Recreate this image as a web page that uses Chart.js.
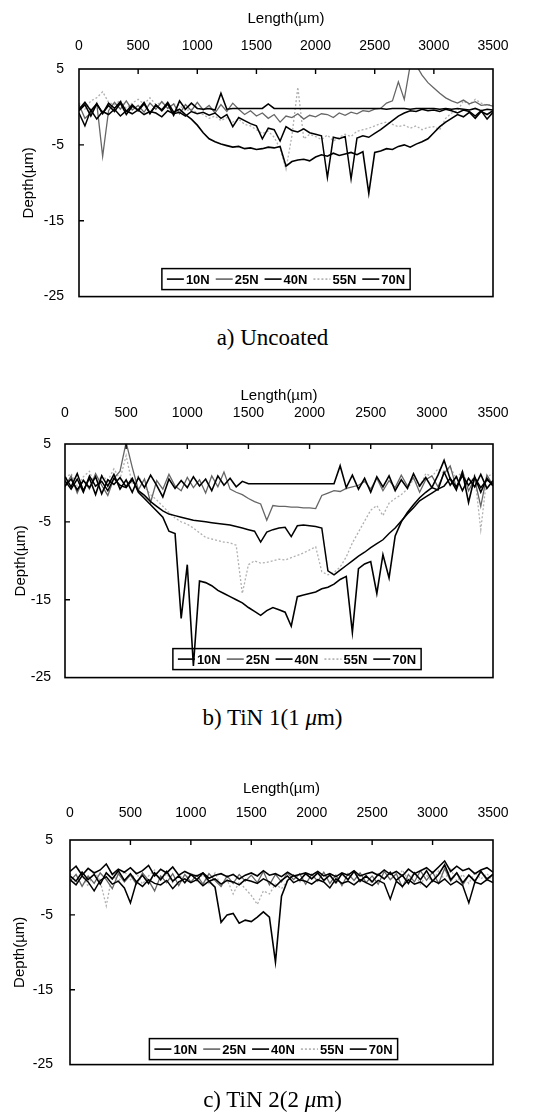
<!DOCTYPE html>
<html>
<head>
<meta charset="utf-8">
<script src="https://cdn.jsdelivr.net/npm/chart.js@4.4.0/dist/chart.umd.min.js"></script>
<style>
  html, body { margin: 0; padding: 0; background: #fff; }
  #page { position: relative; width: 551px; height: 1120px; overflow: hidden; }
  .panel { position: absolute; left: 0; width: 551px; height: 320px; }
  .caption { position: absolute; left: 0; width: 545px; text-align: center;
             font-family: "Liberation Serif", "Times New Roman", serif; font-size: 23px;
             line-height: 26px; color: #000; }
</style>
</head>
<body>
<div id="page">
  <div class="panel" style="top:0px"><canvas id="chartA"></canvas></div>
  <div class="caption" style="top:325px">a) Uncoated</div>
  <div class="panel" style="top:380px"><canvas id="chartB"></canvas></div>
  <div class="caption" style="top:705px">b) TiN 1(1 <i>μ</i>m)</div>
  <div class="panel" style="top:770px"><canvas id="chartC"></canvas></div>
  <div class="caption" style="top:1087px">c) TiN 2(2 <i>μ</i>m)</div>
</div>
<script>
// --- Data (length in µm, depth in µm) ---
const lengthUm = [0, 50, 100, 150, 200, 250, 300, 350, 400, 450,
  500, 550, 600, 650, 700, 750, 800, 850, 900, 950,
  1000, 1050, 1100, 1150, 1200, 1250, 1300, 1350, 1400, 1450,
  1500, 1550, 1600, 1650, 1700, 1750, 1800, 1850, 1900, 1950,
  2000, 2050, 2100, 2150, 2200, 2250, 2300, 2350, 2400, 2450,
  2500, 2550, 2600, 2650, 2700, 2750, 2800, 2850, 2900, 2950,
  3000, 3050, 3100, 3150, 3200, 3250, 3300, 3350, 3400, 3450, 3500];
const lengthTicks = [0, 500, 1000, 1500, 2000, 2500, 3000, 3500];
const depthTicks = [5, -5, -15, -25];
const loadLabels = ['10N', '25N', '40N', '55N', '70N'];

// a) Uncoated
const uncoated10N = [-0.5, 0.3, -1.2, 0.4, -0.8, 0.2, -0.6, 0.5, -1.0, 0.1,
  -0.4, 0.6, -0.9, 0.3, -0.5, 0.4, -1.1, 0.8, -0.3, 0.5,
  -0.2, -0.3, -0.2, -0.4, 1.8, -0.3, -0.2, -0.2, -0.2, -0.2,
  -0.2, -0.2, 0.4, -0.2, -0.2, -0.2, -0.2, -0.2, -0.2, -0.2,
  -0.2, -0.2, -0.2, -0.2, -0.2, -0.2, -0.2, -0.2, -0.2, -0.2,
  -0.2, -0.2, -0.3, -0.2, -0.2, -0.2, -0.3, -0.2, -0.2, -0.2,
  -0.2, -0.3, -0.2, -0.3, -0.2, -0.3, -0.4, -0.2, -0.5, -0.3, -0.4];
const uncoated25N = [0.3, -1.5, -0.8, 0.5, -6.5, -0.5, 0.6, -0.3, 0.8, -0.4,
  0.2, -0.7, 0.5, -0.3, 0.7, -0.2, 0.4, -0.9, 0.3, -0.5,
  0.6, -0.4, 0.2, -0.8, 0.3, -0.6, 0.5, -0.3, -1.0, -0.5,
  -1.2, -0.8, -1.5, -1.0, -2.0, -1.2, -1.4, -0.9, -1.6, -1.1,
  -1.3, -0.9, -1.0, -1.4, -0.8, -1.1, -0.7, -0.9, -0.5, -0.6,
  -0.3, -0.2, 0.5, 0.8, 3.3, 1.0, 5.5, 5.5, 4.2, 3.2,
  2.5, 1.8, 1.2, 0.8, 0.5, 0.9, 0.4, 0.7, 0.2, 0.3, 0.1];
const uncoated40N = [-0.8, -2.5, -0.4, -1.6, -0.6, -1.0, -0.3, -1.2, -0.5, -0.9,
  -0.4, -1.0, -0.6, -0.8, -1.3, -0.5, -0.9, -0.7, -1.2, -0.6,
  -0.9, -0.7, -1.1, -0.8, -1.5, -1.0, -2.6, -1.4, -1.8, -2.2,
  -2.5, -4.2, -2.8, -3.0, -4.5, -2.6, -3.1, -3.3, -2.9, -3.4,
  -3.6, -3.8, -9.3, -4.0, -4.2, -3.9, -9.5, -4.1, -3.8, -4.0,
  -3.5, -3.0, -2.4, -1.8, -1.2, -0.8, -0.5, -0.6, -0.3, -0.5,
  -0.4, -0.6, -0.3, -0.5, -0.8, -0.4, -0.6, -1.2, -0.5, -1.6, -0.7];
const uncoated55N = [0.5, -0.3, 0.8, 1.2, 2.0, 0.6, 0.3, 0.9, -0.2, 0.5,
  1.0, 0.4, 1.2, 0.3, 0.6, -0.2, 0.4, 0.2, -0.5, -0.3,
  -0.8, -1.0, -1.5, -1.2, -1.8, -1.4, -2.0, -1.6, -2.3, -2.5,
  -3.0, -3.5, -3.2, -4.0, -5.5, -8.2, -3.8, 2.6, -4.2, -3.6,
  -3.9, -4.3, -3.7, -4.5, -4.0, -3.6, -3.9, -3.2, -3.0, -2.8,
  -2.5, -2.2, -2.0, -2.3, -2.6, -2.4, -2.8, -2.5, -3.0, -2.7,
  -2.6, -3.0, -1.5, -0.8, -0.5, 0.8, 0.3, 1.0, 0.5, 0.2, 0.4];
const uncoated70N = [-0.3, 0.6, -0.5, 0.4, -0.9, 0.5, -0.2, 0.7, -0.6, 0.3,
  -0.5, 0.4, -0.8, 0.2, -0.4, 0.6, -0.7, -0.3, -1.0, -1.6,
  -2.4, -3.4, -4.2, -4.6, -4.9, -5.1, -5.3, -5.2, -5.5, -5.4,
  -5.6, -5.5, -5.3, -5.4, -5.2, -7.8, -7.2, -7.0, -6.9, -7.1,
  -6.6, -6.3, -6.5, -6.1, -6.4, -6.2, -6.0, -6.3, -5.9, -11.4,
  -6.0, -5.8, -5.5, -5.6, -5.2, -5.0, -5.3, -4.9, -4.6, -4.2,
  -3.4, -2.6, -2.0, -1.5, -1.0, -1.3, -0.7, -1.5, -0.6, -1.0, -0.5];

// b) TiN 1 (1 µm)
const tin1_10N = [0.8, -0.5, 1.2, -1.0, 0.6, -1.5, 0.9, -0.4, 1.1, -0.8,
  0.4, -1.2, 0.7, -0.6, 1.0, -0.3, -1.8, 0.5, -0.7, 0.3,
  -0.6, 0.8, -0.4, 0.5, -1.0, 0.9, -0.3, 0.6, -0.5, 0.2,
  -0.1, -0.1, -0.1, -0.1, -0.1, -0.1, -0.1, -0.1, -0.1, -0.1,
  -0.1, -0.1, -0.1, -0.1, -0.1, 2.2, -0.6, 1.0, -0.8, 0.6,
  -1.2, 0.8, -0.5, 0.9, -1.0, 0.4, -0.7, 1.2, -0.4, 0.7,
  -0.6, 1.0, 2.9, 0.5, -0.9, 1.4, -2.5, 0.8, -1.2, 0.6, -0.4];
const tin1_25N = [-0.5, 0.9, -1.3, 0.4, -0.8, 1.2, -0.3, -1.6, 0.6, 1.5,
  5.2, 2.0, -0.9, 0.5, -2.5, 0.3, -0.8, 1.1, -0.4, -1.0,
  0.7, -0.6, 0.4, -1.3, 0.9, -0.5, 1.4, -0.8, -1.2, -1.5,
  -2.0, -2.4, -2.7, -4.8, -2.9, -3.0, -3.0, -3.1, -3.1, -3.2,
  -3.2, -3.3, -1.6, -1.3, -1.0, -1.1, -0.7, -0.5, -0.3, 0.2,
  -0.8, 0.6, -1.0, 0.3, -0.6, 1.0, -0.4, 0.7, -1.2, 0.4,
  0.9, -0.5, 1.2, 2.2, -0.6, 1.5, -1.0, 0.5, -3.0, 1.0, -0.3];
const tin1_40N = [0.3, -0.8, 0.5, -1.2, 0.9, -0.4, 0.2, -1.0, 0.6, -0.3,
  -0.6, 0.4, -1.0, -1.6, -2.4, -3.0, -3.6, -4.0, -4.2, -4.4,
  -4.6, -4.8, -4.9, -5.0, -5.1, -5.2, -5.3, -5.4, -5.6, -5.8,
  -6.0, -6.2, -7.6, -6.3, -6.0, -5.8, -5.7, -6.9, -5.5, -5.4,
  -5.5, -5.6, -5.8, -11.3, -11.8, -11.2, -10.6, -10.0, -9.4, -8.9,
  -8.3, -7.8, -7.3, -6.5, -5.8, -4.9, -4.0, -3.2, -2.3, -1.8,
  -1.3, -0.8, -0.4, 0.6, -0.5, 0.9, -0.3, 0.7, -0.6, 0.4, -0.2];
const tin1_55N = [0.6, 1.2, -0.4, 0.8, 1.5, -0.6, 1.0, 0.3, 1.8, 0.5,
  3.5, -0.2, 0.9, -0.5, -1.5, -2.2, -3.0, -3.8, -4.5, -5.0,
  -5.3, -5.8, -6.4, -7.0, -7.2, -7.4, -7.6, -7.7, -8.0, -14.2,
  -10.5, -10.0, -10.3, -10.2, -10.0, -9.8, -9.9, -9.6, -9.3, -9.0,
  -8.6, -8.2, -11.4, -11.8, -11.5, -10.8, -9.5, -7.7, -6.3, -4.9,
  -3.5, -2.9, -4.2, -2.6, -2.0, -1.5, -0.8, 0.5, -0.6, 1.2,
  0.8, 1.8, 1.2, 2.0, 0.6, 1.5, -0.4, 1.0, -6.0, 0.8, 1.2];
const tin1_70N = [-0.4, 0.5, -0.9, 0.3, -0.6, 0.8, -1.4, 0.4, -0.2, 0.7,
  -0.5, 0.6, -1.2, -2.0, -2.8, -3.6, -4.4, -6.2, -6.5, -17.4,
  -10.5, -23.5, -12.6, -12.8, -13.2, -13.8, -14.2, -14.6, -15.0, -15.4,
  -16.0, -16.5, -17.0, -16.4, -16.0, -16.3, -16.6, -18.4, -14.6, -14.4,
  -14.2, -14.0, -13.6, -13.4, -13.0, -12.4, -12.0, -19.2, -11.0, -10.4,
  -10.1, -14.2, -9.2, -12.2, -6.8, -5.0, -3.8, -2.8, -1.9, -1.2,
  -0.6, -0.9, 1.4, -0.3, 0.8, -1.0, 0.6, -0.5, 1.1, -0.7, 0.3];

// c) TiN 2 (2 µm)
const tin2_10N = [0.8, 1.5, 0.3, 1.2, 0.6, 1.0, 1.8, 0.4, 1.1, 0.7,
  1.3, 0.5, 0.9, 1.6, 0.2, 1.1, 0.6, 1.4, 0.3, 0.8,
  0.4, 0.2, 0.6, -0.1, 0.3, 0.5, 0.1, 0.4, -0.2, 0.3,
  0.6, 0.2, 0.9, 0.3, 0.5, 0.1, 0.7, 0.2, 0.4, 0.6,
  0.3, 0.8, 0.2, 0.5, 0.1, 0.6, 0.3, 0.9, 0.2, 0.5,
  0.7, 0.3, 1.0, 0.4, 0.8, 0.2, 1.1, 0.5, 0.9, 1.3,
  0.6, 1.4, 2.2, 0.8, 1.5, 0.9, 1.2, 0.5, 1.0, 1.3, 0.7];
const tin2_25N = [-0.5, 0.4, -1.2, 0.2, -0.8, 0.6, -0.3, -1.5, 0.5, -0.6,
  0.3, -0.9, 0.6, -0.4, -1.8, 0.2, -0.7, 0.5, -1.1, 0.4,
  -0.6, 0.3, -0.9, 0.5, -0.4, -1.2, 0.2, -0.8, 0.4, -0.5,
  0.3, -0.7, 0.8, -1.0, 0.4, -0.6, 0.6, -0.3, 0.5, -0.9,
  0.4, -0.5, 0.7, -0.8, 0.3, -1.1, 0.5, -0.4, 0.6, -0.7,
  0.2, -0.9, 0.8, -0.3, 0.5, -1.3, 0.4, -0.6, 0.9, -0.4,
  0.7, -0.8, 1.2, -0.5, 0.6, -1.0, 0.3, -0.6, 0.8, -0.4, 0.5];
const tin2_40N = [-0.3, -1.0, 0.2, -0.6, -1.8, -0.4, 0.1, -0.9, -0.5, -1.4,
  -3.4, -0.6, -1.2, -0.3, -0.8, -1.0, -0.4, -1.5, -0.6, -0.2,
  -0.7, -0.3, -1.1, -0.5, -0.2, -0.9, -0.4, -0.6, -1.0, -0.3,
  -0.5, -0.8, -0.2, -0.6, -1.2, -0.4, 0.2, -0.7, -0.3, -0.5,
  -0.9, -0.3, -0.6, -1.4, -0.2, -0.8, -0.5, -1.0, -0.3, -0.7,
  -1.1, -0.4, -0.8, -2.9, -0.5, -1.2, -0.3, -0.9, -0.6, -1.3,
  -0.4, -0.8, -0.2, -1.0, -0.5, -1.1, -3.4, -0.6, -0.9, -0.3, -0.7];
const tin2_55N = [0.5, -0.8, 0.3, -1.2, 0.9, -0.5, -3.8, 0.4, -0.6, 0.8,
  -0.3, 0.6, -0.9, 0.2, 1.0, -0.4, 0.5, -0.7, 0.3, -0.2,
  0.7, -0.5, 0.4, -0.8, 0.6, -1.2, -0.3, -2.2, -0.6, -1.5,
  -2.4, -3.6, -1.8, -2.2, -0.9, -1.5, -0.4, 0.3, -0.7, 0.5,
  -0.2, 0.8, -0.5, 0.3, -0.9, 0.6, -0.3, 0.9, -0.6, 0.2,
  -0.8, 0.5, -0.2, 0.7, -0.5, 1.0, -0.4, 0.6, -0.9, 0.3,
  -0.6, 0.9, -0.3, 1.1, -0.5, 0.4, -0.8, 0.7, -0.2, 0.5, -0.4];
const tin2_70N = [0.2, -0.5, 0.7, -0.3, 0.4, -0.9, 0.6, -0.2, 0.9, -0.4,
  0.5, -0.6, 0.3, -0.8, 0.6, -0.3, 0.8, -0.5, 0.2, -0.7,
  0.4, -0.3, 0.6, -0.5, -1.3, -6.0, -5.0, -4.8, -6.1, -5.7,
  -5.9, -5.3, -4.6, -5.3, -11.3, -2.5, -0.4, 0.3, -0.4, 0.5,
  -0.2, 0.6, -0.4, 0.3, -0.7, 0.5, -0.3, 0.8, -0.5, 0.2,
  -0.6, 0.4, -0.2, 0.7, -0.4, 0.3, -0.8, 0.6, -0.3, 0.9,
  -0.5, 0.4, 1.7, -0.3, 0.6, -0.7, 0.3, -0.5, 0.8, -0.2, 0.4];

// --- Styles ---
const lineColors = ['#000000', '#666666', '#000000', '#b0b0b0', '#000000'];
const lineWidths = [1.6, 1.3, 1.5, 1.3, 1.6];
const lineDashes = [[], [], [], [2, 2], []];
const drawOrder = [1, 4, 2, 5, 0];
const fontSans = 'Liberation Sans, Arial, sans-serif';

// frame box, inward ticks and boxed legend
const framePlugin = {
    id: 'frame',
    beforeDatasetsDraw(chart, args, opts) {
        const { ctx, chartArea: a } = chart;
        const items = chart.data.datasets;
        ctx.save();
        ctx.font = 'bold 13px ' + fontSans;
        const sample = 17, gap = 2, sep = 6, pad = 5;
        const widths = items.map(d => sample + gap + ctx.measureText(d.label).width);
        const w = widths.reduce((s, v) => s + v, 0) + sep * (items.length - 1) + pad * 2;
        const h = 21;
        const x0 = (a.left + a.right) / 2 - w / 2 + (opts.dx || 0);
        const y0 = a.bottom - (opts.gap || 7) - h;
        ctx.fillStyle = '#fff';
        ctx.fillRect(x0, y0, w, h);
        ctx.strokeStyle = '#000';
        ctx.lineWidth = 1.5;
        ctx.strokeRect(x0, y0, w, h);
        let x = x0 + pad;
        const yc = y0 + h / 2;
        items.forEach((d, k) => {
            ctx.beginPath();
            ctx.setLineDash(d.borderDash || []);
            ctx.strokeStyle = d.borderColor;
            ctx.lineWidth = 1.6;
            ctx.moveTo(x, yc); ctx.lineTo(x + sample, yc);
            ctx.stroke();
            ctx.setLineDash([]);
            ctx.fillStyle = '#000';
            ctx.textBaseline = 'middle';
            ctx.fillText(d.label, x + sample + gap, yc + 1);
            x += widths[k] + sep;
        });
        ctx.restore();
    },
    afterDatasetsDraw(chart) {
        const { ctx, chartArea: a, scales: { x, y } } = chart;
        ctx.save();
        ctx.strokeStyle = '#000';
        ctx.lineWidth = 1.6;
        ctx.strokeRect(a.left, a.top, a.right - a.left, a.bottom - a.top);
        ctx.lineWidth = 1.4;
        ctx.beginPath();
        x.ticks.forEach(t => {
            const px = x.getPixelForValue(t.value);
            if (px <= a.left + 2 || px >= a.right - 2) return;
            ctx.moveTo(px, a.top); ctx.lineTo(px, a.top + 5);
        });
        y.ticks.forEach(t => {
            const py = y.getPixelForValue(t.value);
            if (py <= a.top + 2 || py >= a.bottom - 2) return;
            ctx.moveTo(a.left, py); ctx.lineTo(a.left + 5, py);
        });
        ctx.stroke();
        ctx.restore();
    }
};

const makeChart = (id, series, L) => {
    const datasets = series.map((vals, k) => ({
        label: loadLabels[k],
        data: lengthUm.map((len, i) => ({ x: len, y: vals[i] })),
        borderColor: lineColors[k],
        borderWidth: lineWidths[k],
        borderDash: lineDashes[k],
        order: drawOrder[k],
        pointRadius: 0,
        tension: 0,
        fill: false
    }));

    new Chart(document.getElementById(id), {
        type: 'line',
        data: { datasets },
        options: {
            responsive: true,
            maintainAspectRatio: false,
            animation: false,
            layout: { padding: { left: 0, right: L.right, top: 0, bottom: L.bottom } },
            plugins: {
                legend: { display: false },
                tooltip: { enabled: false },
                frame: { dx: L.legendDx, gap: L.legendGap }
            },
            scales: {
                x: {
                    type: 'linear',
                    position: 'top',
                    min: 0,
                    max: 3500,
                    afterBuildTicks: s => { s.ticks = lengthTicks.map(v => ({ value: v })); },
                    afterFit: s => { s.height = L.xHeight; },
                    grid: { display: false, drawTicks: false },
                    border: { display: false },
                    ticks: { padding: L.xLabelPad, color: '#000', maxRotation: 0, autoSkip: false,
                             callback: v => String(v),
                             font: { family: fontSans, size: 14 } },
                    title: { display: true, text: 'Length(µm)', color: '#000',
                             font: { family: fontSans, size: 15 }, padding: { top: L.xTitlePad, bottom: 0 } }
                },
                y: {
                    type: 'linear',
                    position: 'left',
                    min: -25,
                    max: 5,
                    afterBuildTicks: s => { s.ticks = depthTicks.map(v => ({ value: v })); },
                    afterFit: s => { s.width = L.yWidth; },
                    grid: { display: false, drawTicks: false },
                    border: { display: false },
                    ticks: { padding: L.yLabelPad, color: '#000', autoSkip: false,
                             callback: v => String(v),
                             font: { family: fontSans, size: 14 } },
                    title: { display: true, text: 'Depth(µm)', color: '#000',
                             font: { family: fontSans, size: 15 }, padding: { top: L.yTitlePad, bottom: 0 } }
                }
            }
        },
        plugins: [framePlugin]
    });
};

// --- Charts ---
document.addEventListener('DOMContentLoaded', () => {
    makeChart('chartA', [uncoated10N, uncoated25N, uncoated40N, uncoated55N, uncoated70N],
        { xHeight: 69, yWidth: 79, right: 58, bottom: 8, xTitlePad: 10, xLabelPad: 14,
          yLabelPad: 15, yTitlePad: 20, legendDx: 0, legendGap: 7 });
    makeChart('chartB', [tin1_10N, tin1_25N, tin1_40N, tin1_55N, tin1_70N],
        { xHeight: 64, yWidth: 65, right: 58, bottom: 7, xTitlePad: 7, xLabelPad: 22,
          yLabelPad: 14, yTitlePad: 12, legendDx: 18, legendGap: 8 });
    makeChart('chartC', [tin2_10N, tin2_25N, tin2_40N, tin2_55N, tin2_70N],
        { xHeight: 70, yWidth: 70, right: 58, bottom: 12, xTitlePad: 10, xLabelPad: 18,
          yLabelPad: 17, yTitlePad: 11, legendDx: -8, legendGap: 5 });
});
</script>
</body>
</html>
